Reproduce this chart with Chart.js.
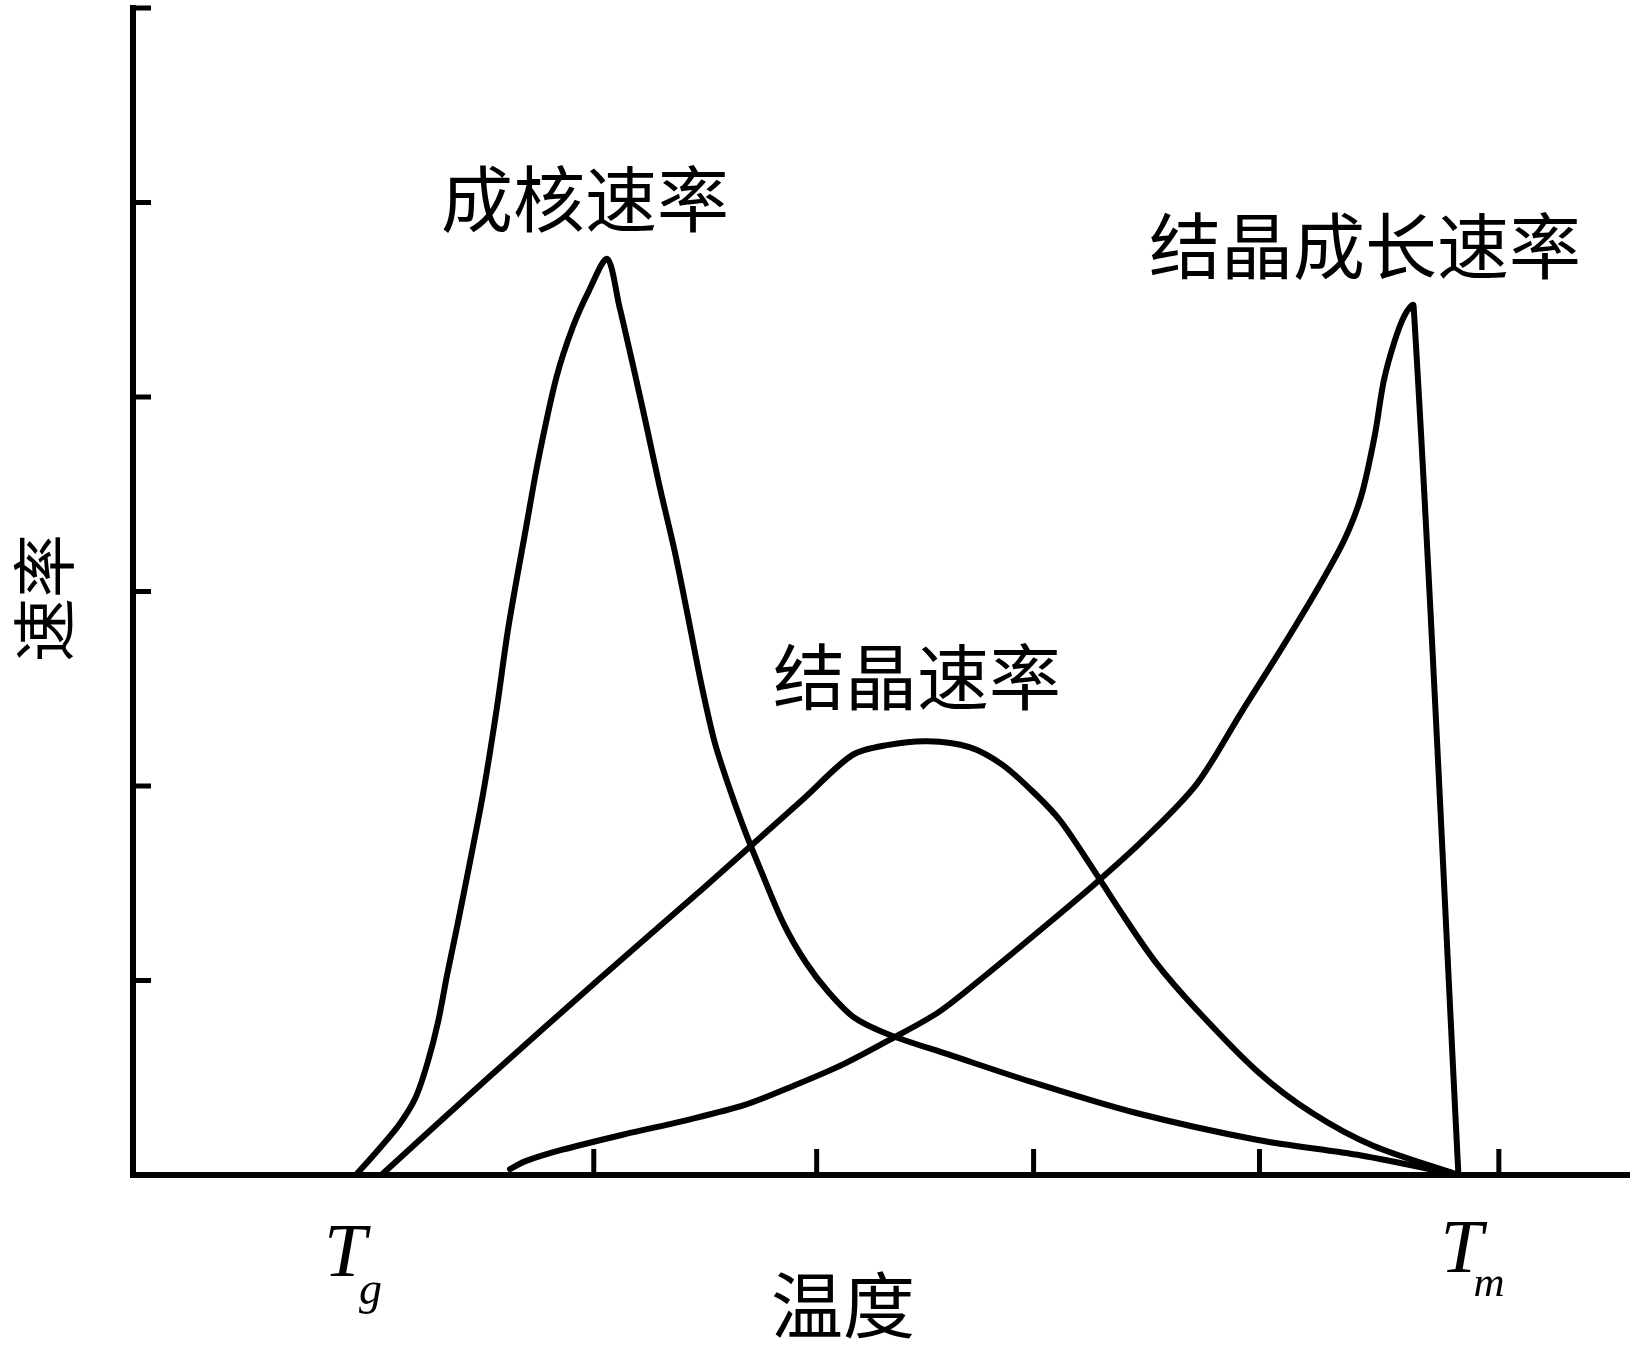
<!DOCTYPE html>
<html>
<head>
<meta charset="utf-8">
<script src="https://cdn.jsdelivr.net/npm/chart.js@4"></script>
<style>
  body { margin: 0; background: #fff; }
  #chart { display: block; }
</style>
</head>
<body>
<canvas id="chart" width="1632" height="1345"></canvas>
<script>
// temperature axis 0..100, rate axis 0..6
var nucT = [14.9, 16.4, 17.8, 18.9, 19.7, 20.4, 21.0, 21.7, 22.5, 23.4, 24.3, 25.1, 26.3, 27.1, 28.3, 29.4, 30.5, 31.7, 32.5, 33.4, 34.3, 35.2, 36.2, 37.1, 38.0, 38.9, 40.0, 41.0, 42.0, 43.5, 45.0, 46.5, 48.2, 50.6, 54.5, 60.0, 67.0, 75.2, 82.1, 88.6]
var nucRate = [0, 0.13, 0.26, 0.40, 0.58, 0.79, 1.03, 1.29, 1.60, 1.96, 2.39, 2.82, 3.34, 3.68, 4.10, 4.36, 4.55, 4.71, 4.47, 4.17, 3.86, 3.54, 3.21, 2.87, 2.52, 2.22, 1.96, 1.75, 1.56, 1.29, 1.09, 0.94, 0.81, 0.72, 0.62, 0.48, 0.32, 0.18, 0.10, 0]

var crysT = [16.6, 23.6, 30.9, 38.2, 44.9, 48.1, 50.4, 53.1, 55.9, 58.1, 60.3, 62.0, 64.2, 65.8, 68.3, 71.1, 75.2, 78.8, 82.9, 88.6]
var crysRate = [0, 0.49, 0.99, 1.48, 1.94, 2.16, 2.21, 2.23, 2.20, 2.11, 1.96, 1.82, 1.57, 1.38, 1.10, 0.85, 0.53, 0.32, 0.15, 0]

var growT = [25.2, 26.2, 28.7, 32.9, 36.9, 40.9, 44.2, 47.5, 50.7, 53.9, 57.2, 60.5, 64.2, 67.5, 71.1, 74.1, 76.8, 79.3, 81.0, 82.1, 83.0, 83.6, 84.3, 85.0, 85.6, 88.6]
var growRate = [0.03, 0.07, 0.13, 0.21, 0.28, 0.36, 0.46, 0.57, 0.70, 0.84, 1.04, 1.25, 1.49, 1.72, 2.01, 2.38, 2.71, 3.03, 3.27, 3.49, 3.80, 4.08, 4.28, 4.42, 4.47, 0]

var xTicks = [30.8, 45.7, 60.2, 75.3, 91.3]
var yTicks = [1, 2, 3, 4, 5, 6]

var curveNames = ['成核速率', '结晶速率', '结晶成长速率']
var xTitle = '温度'
var yTitle = '速率'
var tg = 14.9
var tm = 88.6

function pts(xs, ys) {
  var out = []
  for (let i = 0; i < xs.length; i++) {
    out.push({ x: xs[i], y: ys[i] })
  }
  return out
}

var cjk = '"Noto Sans CJK SC", sans-serif'
var serif = '"Liberation Serif", "DejaVu Serif", serif'

// tick marks (inside the axes) and all the text
var drawExtras = {
  id: 'drawExtras',
  afterDraw: function(chart) {
    var c = chart.ctx
    var x = chart.scales.x
    var y = chart.scales.y
    var area = chart.chartArea
    c.save()
    c.strokeStyle = '#000'
    c.lineWidth = 5
    c.lineCap = 'butt'
    c.beginPath()
    xTicks.forEach(function(v) {
      var px = x.getPixelForValue(v)
      c.moveTo(px, area.bottom)
      c.lineTo(px, area.bottom - 26)
    })
    yTicks.forEach(function(v) {
      var py = y.getPixelForValue(v)
      c.moveTo(area.left, py)
      c.lineTo(area.left + 18, py)
    })
    c.stroke()

    c.fillStyle = '#000'
    c.textAlign = 'center'
    c.textBaseline = 'middle'
    c.font = '72px ' + cjk
    c.fillText(curveNames[0], 585, 199)
    c.fillText(curveNames[1], 917, 677)
    c.fillText(curveNames[2], 1365, 246)
    c.fillText(xTitle, 843, 1305)

    c.save()
    c.translate(44, 598)
    c.rotate(-Math.PI / 2)
    c.font = '64px ' + cjk
    c.fillText(yTitle, 0, 0)
    c.restore()

    // T_g and T_m
    c.textAlign = 'left'
    c.textBaseline = 'alphabetic'
    var gx = x.getPixelForValue(tg)
    var mx = x.getPixelForValue(tm)
    c.font = 'italic 76px ' + serif
    c.fillText('T', gx - 32, 1276)
    c.fillText('T', mx - 18, 1272)
    c.font = 'italic 46px ' + serif
    c.fillText('g', gx + 3, 1304)
    c.font = 'italic 43px ' + serif
    c.fillText('m', mx + 15, 1296)
    c.restore()
  }
}

var ctx = document.getElementById('chart').getContext('2d')
var myChart = new Chart(ctx, {
  type: 'line',
  data: {
    datasets: [
      { label: curveNames[0], data: pts(nucT, nucRate) },
      { label: curveNames[1], data: pts(crysT, crysRate) },
      { label: curveNames[2], data: pts(growT, growRate) }
    ]
  },
  options: {
    responsive: false,
    animation: false,
    layout: { padding: { left: 125, right: 3, top: 8, bottom: 162 } },
    elements: {
      point: { radius: 0 },
      line: { borderColor: '#000', borderWidth: 6, tension: 0.3, fill: false, borderCapStyle: 'round', borderJoinStyle: 'round' }
    },
    plugins: {
      legend: { display: false },
      tooltip: { enabled: false }
    },
    scales: {
      x: {
        type: 'linear',
        min: 0,
        max: 100,
        ticks: { display: false },
        grid: { display: false },
        border: { display: true, color: '#000', width: 6 }
      },
      y: {
        min: 0,
        max: 6,
        ticks: { display: false },
        grid: { display: false },
        border: { display: true, color: '#000', width: 6 }
      }
    }
  },
  plugins: [drawExtras]
})
</script>
</body>
</html>
